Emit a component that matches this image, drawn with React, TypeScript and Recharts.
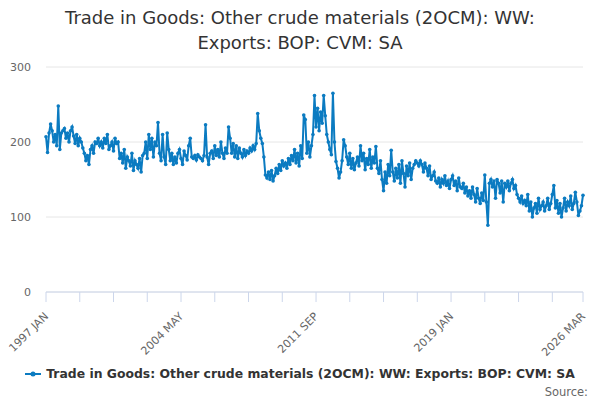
import { CartesianGrid, Line, LineChart, XAxis, YAxis } from "recharts";

const LINE_COLOR = "#0b7bc1";
const MONTHS = ["JAN", "FEB", "MAR", "APR", "MAY", "JUN", "JUL", "AUG", "SEP", "OCT", "NOV", "DEC"];
const START_YEAR = 1997;

// monthly values, one array per year (2026 runs to MAR)
const y1997 = [207, 186, 212, 224, 215, 200, 210, 195, 248, 190, 212, 215];
const y1998 = [218, 205, 212, 200, 215, 220, 208, 198, 210, 195, 205, 200];
const y1999 = [192, 185, 175, 182, 170, 190, 195, 185, 200, 198, 205, 195];
const y2000 = [200, 192, 205, 198, 210, 190, 195, 200, 188, 205, 198, 200];
const y2001 = [178, 185, 172, 190, 165, 180, 175, 168, 185, 162, 175, 170];
const y2002 = [165, 178, 160, 182, 185, 200, 178, 210, 190, 205, 180, 200];
const y2003 = [195, 226, 185, 175, 210, 180, 170, 212, 190, 175, 185, 170];
const y2004 = [180, 172, 185, 190, 178, 170, 188, 182, 176, 195, 205, 180];
const y2005 = [178, 182, 176, 183, 180, 178, 175, 182, 223, 180, 170, 185];
const y2006 = [188, 178, 195, 182, 190, 180, 200, 185, 178, 192, 185, 220];
const y2007 = [205, 185, 198, 180, 195, 178, 192, 185, 180, 190, 182, 188];
const y2008 = [185, 192, 188, 195, 190, 198, 238, 215, 205, 198, 180, 156];
const y2009 = [152, 160, 150, 162, 148, 155, 165, 158, 170, 162, 175, 168];
const y2010 = [172, 165, 178, 170, 182, 175, 190, 172, 185, 168, 195, 178];
const y2011 = [236, 230, 185, 200, 180, 195, 210, 262, 220, 245, 215, 240];
const y2012 = [225, 262, 235, 210, 200, 190, 183, 265, 200, 174, 165, 152];
const y2013 = [160, 175, 203, 195, 180, 170, 185, 165, 178, 163, 172, 180];
const y2014 = [168, 195, 175, 185, 163, 178, 170, 190, 165, 180, 172, 194];
const y2015 = [165, 158, 175, 150, 135, 160, 145, 170, 155, 189, 160, 148];
const y2016 = [165, 152, 170, 145, 175, 158, 140, 168, 155, 172, 150, 165];
const y2017 = [170, 175, 172, 168, 175, 170, 160, 172, 165, 155, 168, 150];
const y2018 = [155, 160, 148, 145, 152, 140, 150, 145, 155, 142, 148, 138];
const y2019 = [150, 155, 142, 148, 135, 152, 140, 138, 145, 132, 140, 128];
const y2020 = [135, 125, 140, 130, 120, 138, 125, 118, 132, 122, 156, 120];
const y2021 = [89, 145, 150, 140, 148, 125, 150, 145, 132, 148, 120, 145];
const y2022 = [140, 148, 135, 145, 150, 138, 142, 130, 125, 120, 128, 118];
const y2023 = [122, 115, 130, 108, 120, 100, 112, 118, 105, 125, 110, 115];
const y2024 = [120, 108, 115, 125, 110, 118, 130, 142, 112, 122, 105, 118];
const y2025 = [100, 112, 125, 108, 120, 115, 128, 110, 118, 133, 120, 102];
const y2026 = [108, 115, 129];

const values = [
  ...y1997, ...y1998, ...y1999, ...y2000, ...y2001, ...y2002, ...y2003, ...y2004,
  ...y2005, ...y2006, ...y2007, ...y2008, ...y2009, ...y2010, ...y2011, ...y2012,
  ...y2013, ...y2014, ...y2015, ...y2016, ...y2017, ...y2018, ...y2019, ...y2020,
  ...y2021, ...y2022, ...y2023, ...y2024, ...y2025, ...y2026,
];

const LAST = values.length - 1;
const data = values.map((v, i) => ({ i, v }));

const monthLabel = (i: number) =>
  `${START_YEAR + Math.floor(i / 12)} ${MONTHS[i % 12]}`;

const X_TICKS = [0, 22, 44, 66, 88, 110, 132, 154, 176, 198, 220, 242, 264, 286, 308, 330, LAST];
const X_LABELED = [0, 88, 176, 264, LAST];
const Y_TICKS = [0, 100, 200, 300];

const TITLE = "Trade in Goods: Other crude materials (2OCM): WW: Exports: BOP: CVM: SA";
const FONT = "'DejaVu Sans', Verdana, sans-serif";

function XTick(props: any) {
  const { x, y, payload } = props;
  if (!X_LABELED.includes(payload.value)) return null;
  const tx = x + 3;
  const ty = y + 13;
  return (
    <text
      x={tx}
      y={ty}
      textAnchor="end"
      fontSize={11}
      fill="#666"
      fontFamily={FONT}
      transform={`rotate(-45, ${tx}, ${ty})`}
    >
      {monthLabel(payload.value)}
    </text>
  );
}

export default function App() {
  return (
    <div style={{ position: "relative", width: 600, height: 400, background: "#fff", fontFamily: FONT }}>
      <style>{"body{margin:0}"}</style>
      <div
        style={{
          position: "absolute",
          top: 5,
          left: 40,
          width: 520,
          textAlign: "center",
          fontSize: 18,
          lineHeight: "25px",
          color: "#333",
        }}
      >
        Trade in Goods: Other crude materials (2OCM): WW:
        <br />
        Exports: BOP: CVM: SA
      </div>
      <LineChart
        width={600}
        height={400}
        data={data}
        margin={{ top: 67, right: 17, bottom: 0, left: 0 }}
      >
        <CartesianGrid vertical={false} stroke="#e6e6e6" />
        <XAxis
          dataKey="i"
          type="number"
          domain={[0, LAST]}
          ticks={X_TICKS}
          interval={0}
          height={108}
          stroke="#ccd6eb"
          tickSize={10}
          tick={<XTick />}
        />
        <YAxis
          domain={[0, 300]}
          ticks={Y_TICKS}
          width={46}
          axisLine={false}
          tickLine={false}
          tickSize={0}
          tickMargin={15}
          tick={{ fontSize: 11, fill: "#666", fontFamily: FONT }}
        />
        <Line
          dataKey="v"
          name={TITLE}
          type="linear"
          stroke={LINE_COLOR}
          strokeWidth={2}
          dot={{ r: 1.8, fill: LINE_COLOR, stroke: LINE_COLOR, strokeWidth: 0 }}
          isAnimationActive={false}
        />
      </LineChart>
      <div
        style={{
          position: "absolute",
          top: 366,
          left: 0,
          width: 600,
          display: "flex",
          justifyContent: "center",
          alignItems: "center",
          fontSize: 12.4,
          fontWeight: "bold",
          color: "#333",
        }}
      >
        <svg width={16} height={10} style={{ marginRight: 5 }}>
          <line x1={0} y1={5} x2={16} y2={5} stroke={LINE_COLOR} strokeWidth={2} />
          <circle cx={8} cy={5} r={2.5} fill={LINE_COLOR} />
        </svg>
        {TITLE}
      </div>
      <div style={{ position: "absolute", top: 385, right: 12, fontSize: 11.5, color: "#666" }}>
        Source:
      </div>
    </div>
  );
}
